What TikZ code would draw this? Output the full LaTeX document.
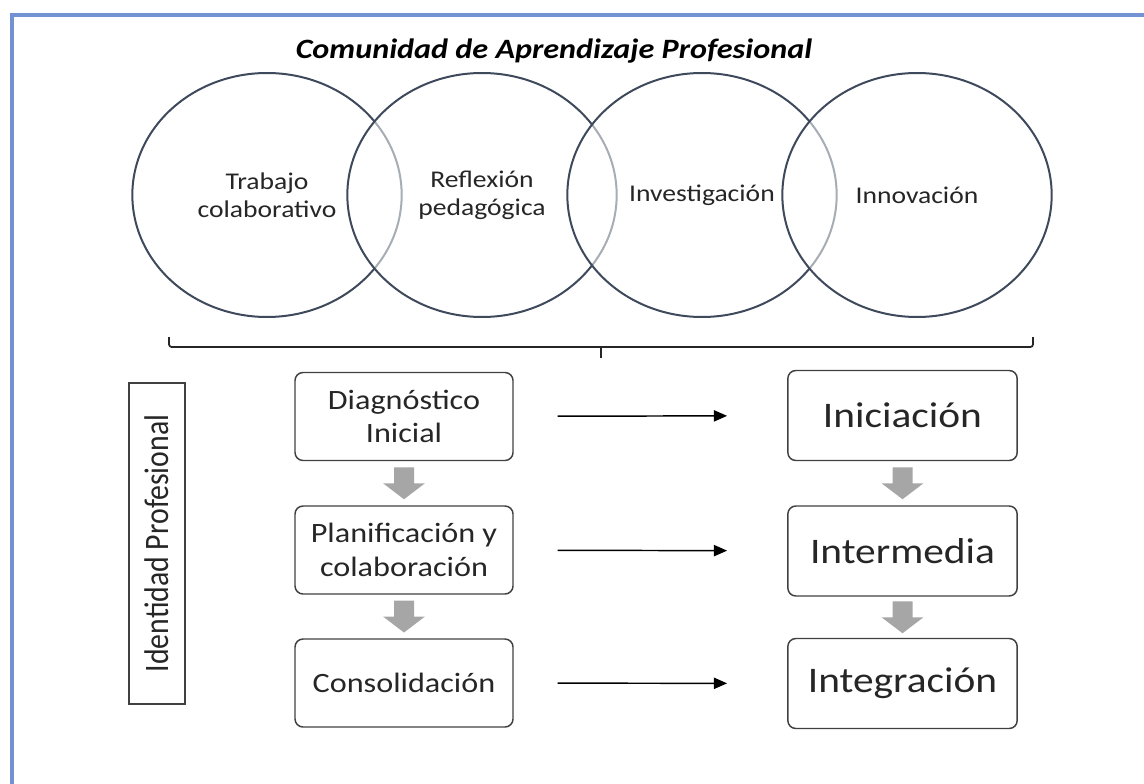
\documentclass[tikz,border=0pt]{standalone}
\usepackage{fontspec}
\setmainfont[FakeStretch=1.15]{Carlito}
\newfontfamily\sidefont[FakeStretch=0.87]{Carlito}
\usetikzlibrary{positioning, arrows.meta, shapes.geometric, calc}

\definecolor{framebl}{RGB}{114,146,212}
\definecolor{ringcol}{RGB}{62,74,92}
\definecolor{boxline}{RGB}{64,64,64}
\definecolor{stepgray}{RGB}{166,166,166}

\begin{document}
\begin{tikzpicture}[
    x=0.75pt, y=-0.75pt,
    ring/.style={ellipse, draw=ringcol, line width=1.5pt, fill=white, fill opacity=0.55,
                 text opacity=1, minimum width=202pt, minimum height=183pt, inner sep=0pt,
                 align=center, text=black!85, font=\fontsize{18pt}{21pt}\selectfont},
    stage/.style={rectangle, rounded corners=6pt, draw=boxline, line width=1.1pt,
                  minimum width=163.5pt, minimum height=66pt, align=center,
                  text=black!85, font=\fontsize{21pt}{25pt}\selectfont},
    level/.style={rectangle, rounded corners=6pt, draw=boxline, line width=1.1pt,
                  minimum width=172pt, minimum height=67.5pt, align=center,
                  text=black!85, font=\fontsize{27pt}{32pt}\selectfont},
    sidebox/.style={rectangle, draw=boxline, line width=1.1pt, rotate=90,
                    minimum width=240.75pt, minimum height=42pt, inner sep=0pt,
                    text=black!85, font=\sidefont\fontsize{25.7pt}{30pt}\selectfont},
    arrow/.style={-{Triangle[length=10pt, width=8.5pt]}, line width=1.1pt,
                  shorten <=33pt, shorten >=45pt},
    blockarrow/.style={fill=stepgray},
    bracket/.style={draw=black!85, line width=1.3pt, rounded corners=2pt},
    title/.style={font=\fontsize{21pt}{25pt}\selectfont\bfseries\itshape}
  ]
    \useasboundingbox (0,0) rectangle (1144,784);

    % frame (only top and left edges are visible)
    \draw[framebl, line width=3pt] (12,784) -- (12,15.5) -- (1144,15.5);

    % title
    \node[title] (title) at (554, 51) {Comunidad de Aprendizaje Profesional};

    % the four overlapping rings
    \node[ring] (c1) at (267, 195) {Trabajo\\colaborativo};
    \node[ring] (c2) at (482, 195) {Reflexión\\pedagógica};
    \node[ring] (c3) at (702, 195) {Investigación};
    \node[ring] (c4) at (917, 195) {Innovación};

    % bracket under the rings
    \draw[bracket] (169,337) -- (169,347) -- (1033,347) -- (1033,337);
    \draw[bracket] (601,347) -- (601,358);

    % side label
    \node[sidebox] (identidad) at (157, 543.5) {Identidad Profesional};

    % stages (left)
    \node[stage] (d1) at (404, 416.5) {Diagnóstico\\Inicial};
    \node[stage] (d2) at (404, 550) {Planificación y\\colaboración};
    \node[stage] (d3) at (404, 683) {Consolidación};

    % levels (right)
    \node[level] (r1) at (902.5, 415.5) {Iniciación};
    \node[level] (r2) at (902.5, 551) {Intermedia};
    \node[level] (r3) at (902.5, 683.5) {Integración};

    % arrows from stages to levels
    \draw[arrow] (d1) -- (r1);
    \draw[arrow] (d2) -- (r2);
    \draw[arrow] (d3) -- (r3);

    % gray block arrows between boxes
    \fill[blockarrow] ($(d1.south)!0.5!(d2.north)$) +(-10,-16) -- +(10,-16) -- +(10,0)
      -- +(21,0) -- +(0,16) -- +(-21,0) -- +(-10,0) -- cycle;
    \fill[blockarrow] ($(d2.south)!0.5!(d3.north)$) +(-10,-16) -- +(10,-16) -- +(10,0)
      -- +(21,0) -- +(0,16) -- +(-21,0) -- +(-10,0) -- cycle;
    \fill[blockarrow] ($(r1.south)!0.5!(r2.north)$) +(-10,-16) -- +(10,-16) -- +(10,0)
      -- +(21,0) -- +(0,16) -- +(-21,0) -- +(-10,0) -- cycle;
    \fill[blockarrow] ($(r2.south)!0.5!(r3.north)$) +(-10,-16) -- +(10,-16) -- +(10,0)
      -- +(21,0) -- +(0,16) -- +(-21,0) -- +(-10,0) -- cycle;

  \end{tikzpicture}
\end{document}
